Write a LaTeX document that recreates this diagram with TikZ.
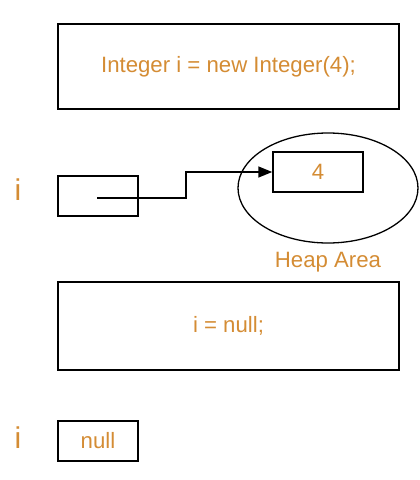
\documentclass[tikz,border=0pt]{standalone}
\usepackage{fontspec}
\setmainfont{Liberation Sans}
\usetikzlibrary{arrows.meta,shapes.geometric}
\definecolor{codeorange}{RGB}{212,140,52}
\begin{document}
\begin{tikzpicture}[x=1pt, y=-1pt,
    txt/.style={text=codeorange, font=\fontsize{22.2}{26}\selectfont},
    bigi/.style={text=codeorange, font=\fontsize{30}{34}\selectfont},
    cell/.style={draw, line width=1.5pt, inner sep=0pt, txt},
    arrow/.style={line width=1.5pt, -{Triangle[length=14pt,width=11pt]}}]
        \useasboundingbox (0,0) rectangle (420,480);
        \node[cell, minimum width=341, minimum height=85] (code1) at (228.5,66.5) {Integer i = new Integer(4);};
        \node[bigi] (i1) at (18,190) {i};
        \node[cell, minimum width=80, minimum height=40] (ref) at (98,196) {};
        \node[draw, ellipse, line width=1.3pt, minimum width=180, minimum height=110] (heap) at (328,188) {};
        \node[cell, minimum width=90, minimum height=40] (val) at (318,172) {4};
        \node[txt] (heaplbl) at (328,262) {Heap Area};
        \coordinate (start) at (97,198);
        \draw[arrow] (start) -- ++(89,0) |- (val.west);
        \node[cell, minimum width=341, minimum height=88] (code2) at (228.5,326) {i = null;};
        \node[bigi] (i2) at (18,438) {i};
        \node[cell, minimum width=80, minimum height=40] (nullcell) at (98,441) {null};
    \end{tikzpicture}
\end{document}
